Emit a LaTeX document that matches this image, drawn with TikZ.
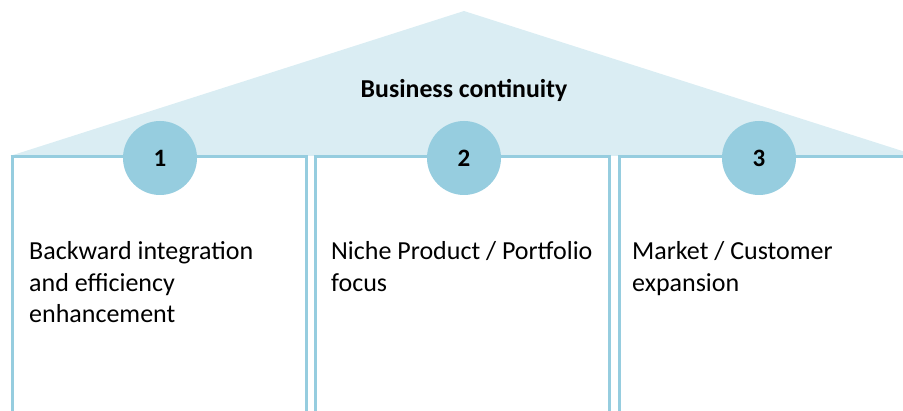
\documentclass[tikz,border=0pt]{standalone}
\usepackage{fontspec}
\setmainfont{Carlito}
\definecolor{roofc}{HTML}{DAEDF3}
\definecolor{pillar}{HTML}{96CDDF}
\begin{document}
\begin{tikzpicture}[x=1pt,y=-1pt,
  pillarbox/.style={draw=pillar,line width=3pt},
  numcirc/.style={circle,fill=pillar,minimum size=74pt,inner sep=0pt,font=\fontsize{25}{29}\selectfont\bfseries},
  boxtext/.style={anchor=base west,align=left,inner sep=0pt,font=\fontsize{26}{31.5}\selectfont}]
\useasboundingbox (0,0) rectangle (903,411);
\begin{scope}
\clip (0,0) rectangle (903,411);
\fill[roofc] (10,156) -- (464,11) -- (918,156) -- cycle;
\node[font=\fontsize{25.8}{30}\selectfont\bfseries,anchor=base,inner sep=0pt] (title) at (464,98) {Business continuity};
\draw[pillarbox] (12,420) -- (12,157) -- (306,157) -- (306,420);
\draw[pillarbox] (315,420) -- (315,157) -- (609,157) -- (609,420);
\draw[pillarbox] (619,420) -- (619,157) -- (913,157) -- (913,420);
\node[numcirc] (c1) at (160,158) {1};
\node[numcirc] (c2) at (464,158) {2};
\node[numcirc] (c3) at (759,158) {3};
\node[boxtext] (t1) at (29,323) {Backward integration\\and efficiency\\enhancement};
\node[boxtext] (t2) at (331,291.5) {Niche Product / Portfolio\\focus};
\node[boxtext] (t3) at (632,291.5) {Market / Customer\\expansion};
\end{scope}
\end{tikzpicture}
\end{document}
